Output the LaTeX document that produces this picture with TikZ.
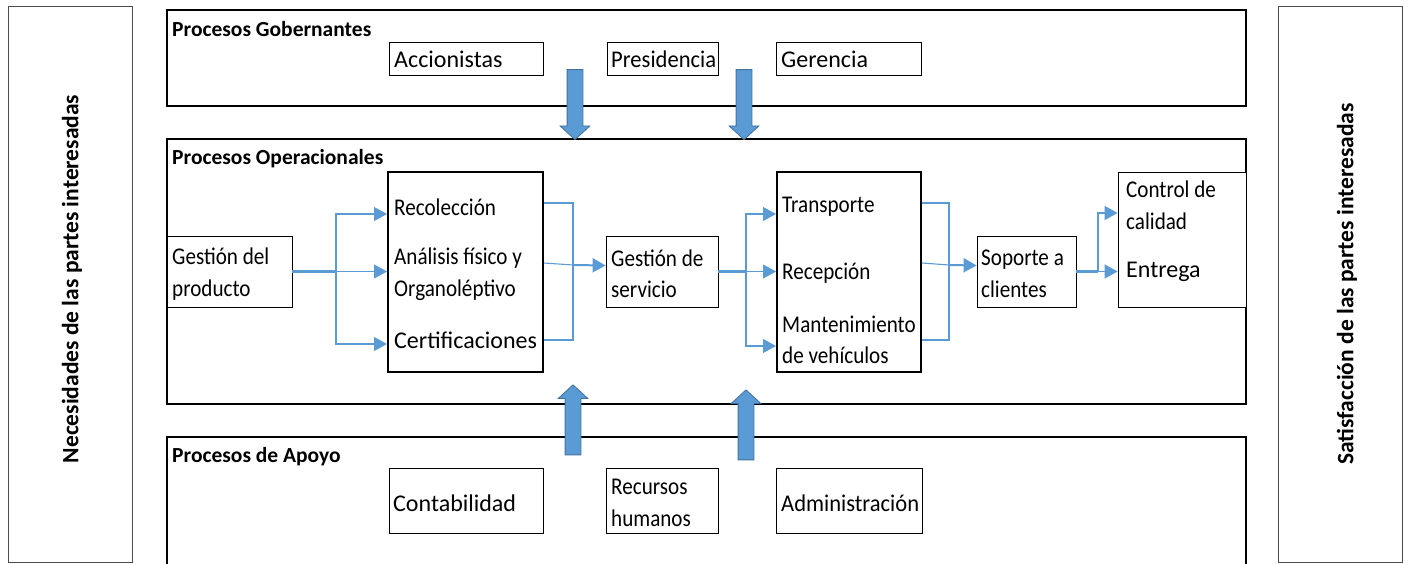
\documentclass[tikz,border=0pt]{standalone}
\usepackage{fontspec}
\setmainfont{Carlito}
\newfontfamily\estrecha{Carlito}[FakeStretch=0.88]
\newfontfamily\semiestrecha{Carlito}[FakeStretch=0.94]
\usepackage{tikz}
\usetikzlibrary{shapes,arrows.meta,positioning,calc}

\definecolor{flujo}{HTML}{5B9BD5}
\definecolor{flujoborde}{HTML}{41719C}

\tikzset{
  marco/.style={draw=black, line width=2pt, inner sep=0pt},
  lado/.style={draw=black!70, line width=0.8pt, inner sep=0pt, minimum width=124pt, minimum height=556pt},
  caja/.style={draw=black, line width=0.8pt, fill=white, inner sep=0pt},
  texto/.style={anchor=west, inner sep=0pt, align=left, font=\estrecha\fontsize{24}{31.5}\selectfont},
  medio/.style={font=\semiestrecha\fontsize{24}{31.5}\selectfont},
  grande/.style={font=\fontsize{24}{31.5}\selectfont},
  titulo/.style={anchor=west, inner sep=0pt, font=\bfseries\fontsize{21.5}{24}\selectfont},
  lateral/.style={inner sep=0pt, font=\bfseries\fontsize{23.5}{24}\selectfont},
  enlace/.style={draw=flujo, line width=1.1pt},
  flecha/.style={enlace, -{Triangle[length=13pt,width=14pt]}},
  tronco/.style={draw=flujo, line width=3pt},
  bloque/.style={single arrow, fill=flujo, draw=flujoborde, line width=0.8pt, inner sep=7.5pt,
    single arrow head extend=7pt, single arrow tip angle=95, minimum height=70pt}
}

\begin{document}
\begin{tikzpicture}[x=1pt, y=-1pt]
    \useasboundingbox (0,0) rectangle (1408,564);
    \clip (0,0) rectangle (1408,564);

    % Partes interesadas
    \node[lado] (necesidades) at (70,284) {};
    \node[lateral, rotate=90] (necTexto) at (72,279) {Necesidades de las partes interesadas};
    \node[lado] (satisfaccion) at (1340,284) {};
    \node[lateral, rotate=90] (satTexto) at (1347,284) {Satisfacción de las partes interesadas};

    % Procesos gobernantes
    \node[marco, minimum width=1079pt, minimum height=96pt] (gobernantes) at (706.5,58) {};
    \node[titulo] (gobTitulo) at (172,29) {Procesos Gobernantes};
    \node[caja, minimum width=154pt, minimum height=33pt] (accionistas) at (466,58.5) {};
    \node[caja, minimum width=111pt, minimum height=33pt] (presidencia) at (662.5,58.5) {};
    \node[caja, minimum width=145pt, minimum height=33pt] (gerencia) at (848.5,58.5) {};
    \node[texto, grande] (accTexto) at (394,59) {Accionistas};
    \node[texto, medio] (presTexto) at (611,59) {Presidencia};
    \node[texto, grande] (gerTexto) at (781,59) {Gerencia};

    % Procesos operacionales
    \node[marco, minimum width=1079pt, minimum height=265pt] (operacionales) at (706.5,271.5) {};
    \node[titulo] (opTitulo) at (172,159) {Procesos Operacionales};
    \node[caja, minimum width=125pt, minimum height=71pt] (producto) at (229.5,271.5) {};
    \node[texto] (prodTexto) at (172,274) {Gestión del\\producto};
    \node[marco, minimum width=155pt, minimum height=200pt] (analisis) at (465.5,272) {};
    \node[texto] (recoleccion) at (394,207) {Recolección};
    \node[texto] (fisico) at (394,274) {Análisis físico y\\Organoléptivo};
    \node[texto, grande] (certificaciones) at (394,340) {Certificaciones};
    \node[caja, minimum width=112pt, minimum height=71pt] (servicio) at (662,271.5) {};
    \node[texto] (servTexto) at (611,274) {Gestión de\\servicio};
    \node[marco, minimum width=144pt, minimum height=200pt] (transporte) at (849,272) {};
    \node[texto] (transTexto) at (782,207) {Transporte};
    \node[texto] (recepcion) at (782,273) {Recepción};
    \node[texto] (mantenimiento) at (782,340) {Mantenimiento\\de vehículos};
    \node[caja, minimum width=99pt, minimum height=71pt] (soporte) at (1026.5,271.5) {};
    \node[texto] (sopTexto) at (981,274) {Soporte a\\clientes};
    \node[caja, minimum width=128pt, minimum height=135pt] (calidad) at (1182,239.5) {};
    \node[texto] (control) at (1126,205.5) {Control de\\calidad};
    \node[texto, grande] (entrega) at (1126,272) {Entrega};

    % Procesos de apoyo
    \node[marco, minimum width=1079pt, minimum height=170pt] (apoyo) at (706.5,522) {};
    \node[titulo] (apoyoTitulo) at (172,457) {Procesos de Apoyo};
    \node[caja, minimum width=154pt, minimum height=65pt] (contabilidad) at (466,500.5) {};
    \node[caja, minimum width=112pt, minimum height=65pt] (recursos) at (662,500.5) {};
    \node[caja, minimum width=146pt, minimum height=65pt] (administracion) at (849,500.5) {};
    \node[texto, grande] (contTexto) at (393,503.5) {Contabilidad};
    \node[texto] (recTexto) at (611,503) {Recursos\\humanos};
    \node[texto, medio] (admTexto) at (781,503.5) {Administración};

    % Ramales
    \coordinate (ramaA) at (336,271.5);
    \coordinate (juntaA) at (573,272);
    \coordinate (ramaB) at (746,271.5);
    \coordinate (juntaB) at (949,272);
    \coordinate (ramaC) at (1098,271.5);

    \draw[tronco] (producto.east) -- (ramaA);
    \draw[flecha] (ramaA) |- ([yshift=58pt]analisis.west);
    \draw[flecha] (ramaA) -- (analisis.west |- ramaA);
    \draw[flecha] (ramaA) |- ([yshift=-72pt]analisis.west);
    \draw[enlace] ([yshift=69pt]analisis.east) -| ([yshift=-68pt]juntaA) -- ([yshift=-68pt]analisis.east);
    \draw[enlace] ([yshift=9pt]analisis.east) -- ([yshift=7pt]juntaA);
    \draw[flecha, line width=2pt] ([yshift=7pt]juntaA) -- ([yshift=6pt]servicio.west);

    \draw[tronco] (servicio.east) -- (ramaB);
    \draw[flecha] (ramaB) |- ([yshift=58pt]transporte.west);
    \draw[flecha] (ramaB) -- (transporte.west |- ramaB);
    \draw[flecha] (ramaB) |- ([yshift=-74pt]transporte.west);
    \draw[enlace] ([yshift=69pt]transporte.east) -| ([yshift=-68pt]juntaB) -- ([yshift=-68pt]transporte.east);
    \draw[enlace] ([yshift=9pt]transporte.east) -- ([yshift=7pt]juntaB);
    \draw[flecha, line width=2pt] ([yshift=7pt]juntaB) -- ([yshift=6pt]soporte.west);

    \draw[tronco] (soporte.east) -- (ramaC);
    \draw[flecha] (ramaC) |- ([yshift=26.5pt]calidad.west);
    \draw[flecha] (ramaC) -- (calidad.west |- ramaC);

    % Flechas de bloque
    \node[bloque, rotate=-90] (bajaA) at (575,101) {};
    \node[bloque, rotate=-90] (bajaB) at (744,101) {};
    \node[bloque, rotate=90] (subeA) at (573,423.5) {};
    \node[bloque, rotate=90] (subeB) at (746,428.5) {};
\end{tikzpicture}
\end{document}
